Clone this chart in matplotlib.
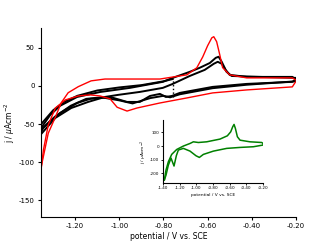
import matplotlib
matplotlib.use('Agg')
import matplotlib.pyplot as plt
from matplotlib.ticker import FormatStrFormatter

plt.rcParams['axes.unicode_minus'] = False
plt.rcParams['font.family'] = 'DejaVu Sans'

# red cycle: anodic then cathodic branch
red_ox_E = [-1.354, -1.322, -1.290, -1.263, -1.232, -1.186, -1.128, -1.065, -1.006, -0.816,
            -0.694, -0.649, -0.622, -0.600, -0.581, -0.572, -0.559, -0.545, -0.532, -0.500,
            -0.423, -0.216, -0.202]
red_ox_j = [-106, -62, -41, -22, -9, -1, 6.6, 9, 9, 9,
            14.5, 23.7, 38, 52.6, 63, 64.5, 58, 41, 24, 14.5,
            10.5, 10.5, 8]
red_red_E = [-0.202, -0.216, -0.423, -0.577, -0.694, -0.816, -0.920, -0.965, -1.010, -1.042,
             -1.087, -1.132, -1.186, -1.245, -1.290, -1.322, -1.344, -1.354]
red_red_j = [5, -1.3, -5.3, -9.2, -15.8, -22.4, -29, -33, -28, -17,
             -13.2, -11.8, -13.2, -18.4, -29, -51, -84, -108]

# black cycles
blk1_ox_E = [-1.354, -1.313, -1.268, -1.191, -1.087, -0.952, -0.803, -0.758, -0.681, -0.636,
             -0.590, -0.563, -0.550, -0.536, -0.518, -0.500, -0.423, -0.216, -0.202]
blk1_ox_j = [-55, -38, -26, -14.5, -8, -2.6, 5.3, 10.5, 18.4, 23.7,
             30, 36.8, 38.2, 31.6, 21, 14.5, 11.8, 11.8, 9]
blk1_red_E = [-0.202, -0.216, -0.423, -0.577, -0.726, -0.762, -0.789, -0.816, -0.861, -0.907,
              -0.965, -1.042, -1.132, -1.191, -1.268, -1.313, -1.344, -1.354]
blk1_red_j = [8, 5.3, 2.6, -1.3, -9.2, -13.2, -14.5, -10.5, -13.2, -21,
              -21, -14.5, -17, -22.4, -35.5, -46, -55, -60]
blk2_ox_E = [-1.354, -1.290, -1.218, -1.141, -1.065, -1.006, -0.907, -0.803, -0.758, -0.681,
             -0.613, -0.572, -0.554, -0.536, -0.514, -0.491, -0.365, -0.202]
blk2_ox_j = [-63, -42, -29, -21, -14.5, -11.8, -7.9, -2.6, 2.6, 13,
             21, 29, 31.6, 29, 18.4, 13, 11.8, 10.5]
blk2_red_E = [-0.202, -0.423, -0.577, -0.726, -0.770, -0.800, -0.860, -0.940, -1.000, -1.080,
              -1.150, -1.220, -1.290, -1.354]
blk2_red_j = [6, 1.5, -3, -11, -15, -13, -16, -23, -19, -15,
              -17, -26, -40, -57]
blk3_ox_E = [-1.354, -1.300, -1.250, -1.190, -1.100, -1.000, -0.900, -0.800, -0.758]
blk3_ox_j = [-50, -32, -21, -13, -6, -2, 1, 6, 9]
start_E = [-0.758, -0.758]
start_j = [-14, 9]

# inset (green)
grn_ox_E = [-1.384, -1.364, -1.336, -1.296, -1.236, -1.156, -1.076, -1.036, -0.976, -0.876,
            -0.716, -0.628, -0.588, -0.564, -0.548, -0.532, -0.508, -0.476, -0.356, -0.216, -0.196]
grn_ox_j = [-248, -175, -115, -61, -25, 0, 19, 31, 26, 31,
            51, 75, 104, 141, 158, 129, 68, 43, 31, 26, 17]
grn_red_E = [-0.196, -0.204, -0.316, -0.476, -0.636, -0.796, -0.916, -0.964, -1.004, -1.076,
             -1.156, -1.216, -1.240, -1.268, -1.304, -1.336, -1.364, -1.384]
grn_red_j = [17, 7, -5, -10, -17, -37, -61, -83, -71, -37,
             -17, -29, -70, -146, -88, -139, -212, -248]

fig = plt.figure(figsize=(3.28, 2.45), dpi=100)
ax = fig.add_axes([0.125, 0.114, 0.777, 0.772])

for E, j in [(blk1_ox_E, blk1_ox_j), (blk1_red_E, blk1_red_j), (blk2_ox_E, blk2_ox_j),
             (blk2_red_E, blk2_red_j), (blk3_ox_E, blk3_ox_j)]:
    ax.plot(E, j, color='black', lw=1.4)
ax.plot(start_E, start_j, color='black', lw=1, ls=':')
ax.plot(red_ox_E, red_ox_j, color='red', lw=1.0)
ax.plot(red_red_E, red_red_j, color='red', lw=1.0)

ax.set_xlim(-1.355, -0.2)
ax.set_ylim(-172, 76)
ax.set_xticks([-1.2, -1.0, -0.8, -0.6, -0.4, -0.2])
ax.set_yticks([50, 0, -50, -100, -150])
ax.xaxis.set_major_formatter(FormatStrFormatter('%.2f'))
ax.spines['top'].set_visible(False)
ax.spines['right'].set_visible(False)
ax.tick_params(labelsize=5, length=2.5, width=0.8, pad=2)
ax.set_xlabel('potential / V vs. SCE', fontsize=5.5, labelpad=2)
ax.set_ylabel(r'j / $\mu$Acm$^{-2}$', fontsize=5.5, labelpad=1)

ins = fig.add_axes([0.497, 0.253, 0.305, 0.257])
ins.plot(grn_ox_E, grn_ox_j, color='green', lw=1.1)
ins.plot(grn_red_E, grn_red_j, color='green', lw=1.1)
ins.set_xlim(-1.40, -0.20)
ins.set_ylim(-270, 190)
ins.set_xticks([-1.4, -1.2, -1.0, -0.8, -0.6, -0.4, -0.2])
ins.set_yticks([100, 0, -100, -200])
ins.xaxis.set_major_formatter(FormatStrFormatter('%.2f'))
ins.spines['top'].set_visible(False)
ins.spines['right'].set_visible(False)
ins.tick_params(labelsize=3, length=1.5, width=0.6, pad=1)
ins.set_xlabel('potential / V vs. SCE', fontsize=3.2, labelpad=1.5)
ins.set_ylabel(r'j / $\mu$Acm$^{-2}$', fontsize=3.2, labelpad=1)

fig.savefig('out.png', dpi=100)
